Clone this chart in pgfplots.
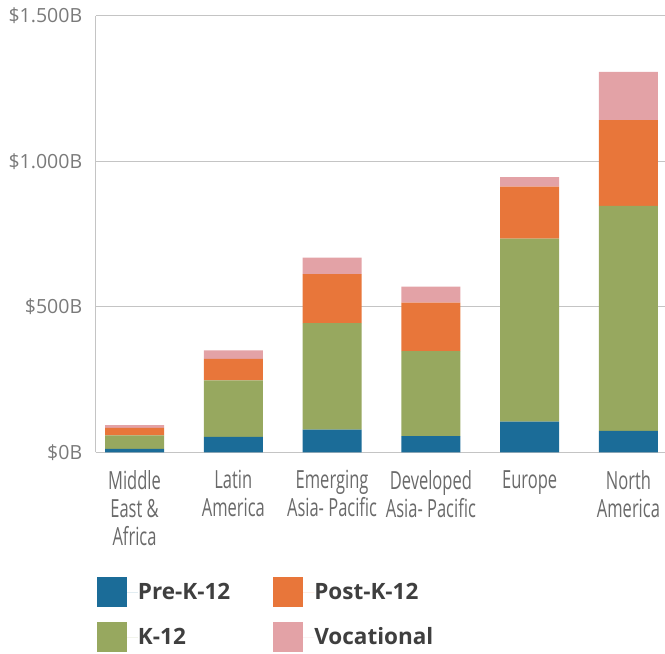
\documentclass[border=0pt]{standalone}
\usepackage{fontspec}
\setmainfont{Open Sans}
\newfontfamily\condfont{Open Sans}[FakeStretch=0.66]
\usepackage{pgfplots}
\pgfplotsset{compat=1.18}

\definecolor{preK}{HTML}{1B6C98}
\definecolor{kTwelve}{HTML}{97A85F}
\definecolor{postK}{HTML}{E8763A}
\definecolor{voc}{HTML}{E3A2A6}
\definecolor{gridgray}{HTML}{C4C4C4}
\definecolor{ticktext}{HTML}{7A7A7A}
\definecolor{cattext}{HTML}{6A6A6A}
\definecolor{legtext}{HTML}{3F3F3F}

% Education spending by region, $B
% region: 0 ME&A, 1 Latin America, 2 Emerging APAC, 3 Developed APAC, 4 Europe, 5 North America
\begin{document}
\begin{tikzpicture}
\begin{axis}[
  at={(0,0)}, anchor=south west,
  scale only axis,
  width=569.3pt, height=436.6pt,
  ybar stacked, bar width=59pt,
  xmin=-0.393, xmax=5.37,
  ymin=0, ymax=1500,
  xtick={0,1,2,3,4,5},
  xticklabels={Middle\\East \&\\Africa, Latin\\America, Emerging\\Asia- Pacific, Developed\\Asia- Pacific, Europe, North\\America},
  ytick={0,500,1000,1500},
  yticklabels={\$0B,\$500B,\$1.000B,\$1.500B},
  major tick length=0pt,
  axis x line*=bottom, axis y line*=left,
  axis line style={gridgray, line width=0.9pt, -},
  ymajorgrids, grid style={gridgray, line width=0.9pt},
  yticklabel style={font=\fontsize{19.5}{22}\selectfont, text=ticktext, anchor=east, xshift=-10pt},
  xticklabel style={font=\condfont\fontsize{25}{28}\selectfont, text=cattext, align=center, anchor=north, inner sep=0pt, yshift=-18pt},
  legend columns=2, transpose legend,
  legend cell align=left,
  legend image code/.code={
    \fill[#1, draw=none] (0pt,-15pt) rectangle (30pt,15pt);
    \path (0pt,0pt) -- (41pt,0pt);
  },
  legend style={draw=none, fill=none, inner sep=0pt, outer sep=0pt,
    at={(rel axis cs:0,0)}, anchor=north west, xshift=1.3pt, yshift=-124.7pt,
    nodes={inner sep=0pt, font=\bfseries\fontsize{22.5}{26}\selectfont, text=legtext},
    /tikz/every even column/.append style={column sep=43pt},
    row sep=15pt},
]
\addplot[fill=preK, draw=none] coordinates {(0,12) (1,53) (2,78) (3,56) (4,105) (5,74)};
\addplot[fill=kTwelve, draw=none] coordinates {(0,46) (1,194) (2,366) (3,292) (4,629) (5,773)};
\addplot[fill=postK, draw=none] coordinates {(0,26) (1,74) (2,168) (3,166) (4,179) (5,294)};
\addplot[fill=voc, draw=none] coordinates {(0,9) (1,29) (2,57) (3,55) (4,32) (5,166)};
\legend{Pre-K-12, K-12, Post-K-12, Vocational}
\end{axis}
\pgfresetboundingbox
\useasboundingbox (-95.7pt,-201.7pt) rectangle (569.3pt,452.3pt);
\end{tikzpicture}
\end{document}
